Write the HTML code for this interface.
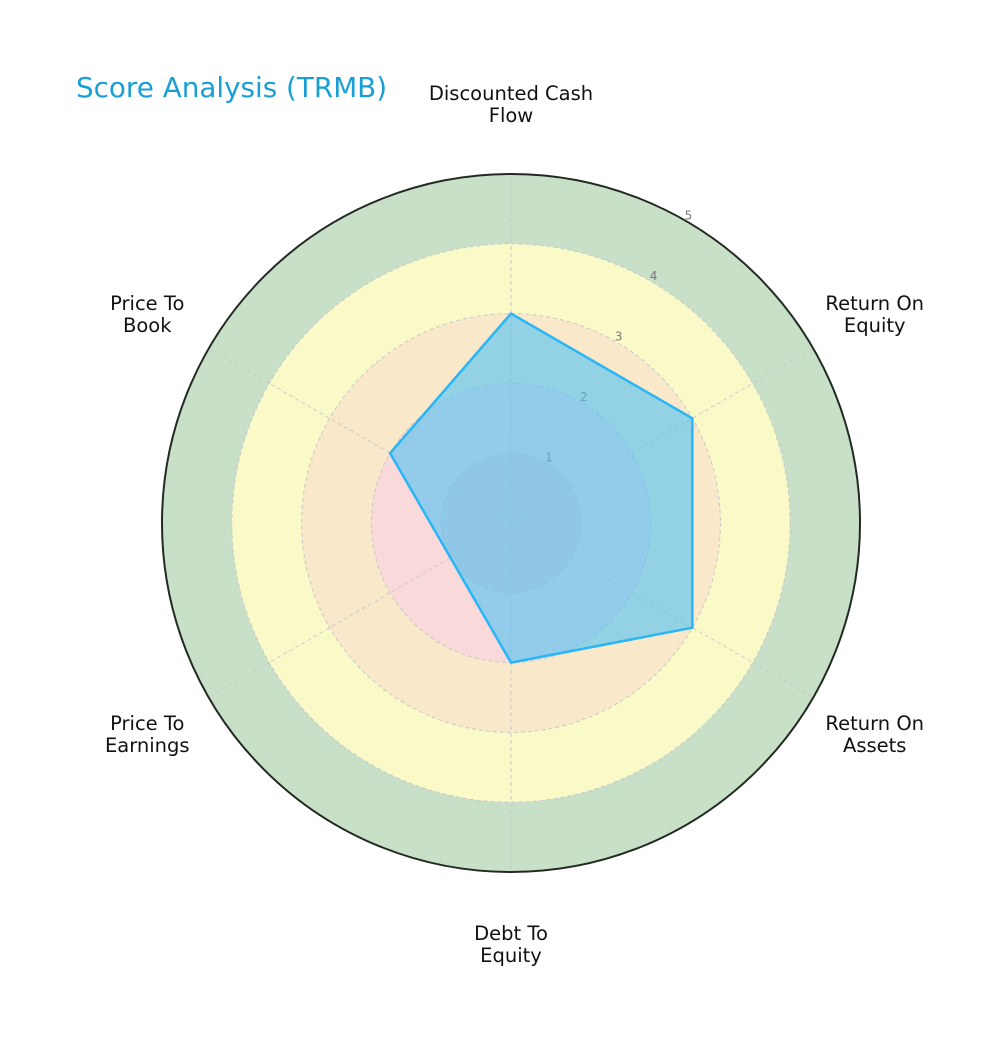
<!DOCTYPE html>
<html><head><meta charset="utf-8"><style>
html,body{margin:0;padding:0;background:#fff;}
svg{display:block;font-family:"DejaVu Sans","Liberation Sans",sans-serif;}
</style></head><body>
<svg id="chart" width="1000" height="1039" viewBox="0 0 1000 1039" xmlns="http://www.w3.org/2000/svg">
<text x="76" y="97" font-size="27.8" fill="#1a9fd4">Score Analysis (TRMB)</text>
<g id="bands"></g><g id="grid"></g><g id="poly"></g><g id="labels"></g>
</svg>
<script>
const categories = [["Discounted Cash","Flow"],["Return On","Equity"],["Return On","Assets"],["Debt To","Equity"],["Price To","Earnings"],["Price To","Book"]];
const scores = [3, 3, 3, 2, 1, 2];
const tickLabels = ["1","2","3","4","5"];
const bandEdges = [1, 2, 3, 4, 5];
const bandColors = ["#f4cccc","#f9d9d9","#f9e8c9","#fafac9","#c8e0c8"];
const maxVal = 5;
const NS="http://www.w3.org/2000/svg";
const cx=511, cy=523, R=349;
function rScale(v){return v/maxVal*R;}
function ang(i){return -Math.PI/2 + i*2*Math.PI/categories.length;}
function pt(i,v){return [cx+rScale(v)*Math.cos(ang(i)), cy+rScale(v)*Math.sin(ang(i))];}
function mk(tag,attrs,parent){const e=document.createElementNS(NS,tag);for(const k in attrs)e.setAttribute(k,attrs[k]);document.getElementById(parent).appendChild(e);return e;}
for(let b=bandEdges.length-1;b>=0;b--){
  const c=mk('circle',{cx:cx,cy:cy,r:rScale(bandEdges[b]),fill:bandColors[b]},'bands');
  
  
}
for(let k=0;k<tickLabels.length-1;k++){
  const c=mk('circle',{cx:cx,cy:cy,r:rScale(k+1),fill:'none',stroke:'#c8c8c8','stroke-width':1,'stroke-dasharray':'4,3'},'grid');
  
  
}
categories.forEach((c,i)=>{
  const p=pt(i,maxVal);
  const l=mk('line',{x1:cx,y1:cy,x2:p[0],y2:p[1],stroke:'#c8c8c8','stroke-width':1,'stroke-dasharray':'4,3'},'grid');
  
  
});
const outer=mk('circle',{cx:cx,cy:cy,r:R,fill:'none',stroke:'#222a22','stroke-width':2},'grid');


tickLabels.forEach((t,k)=>{
  const a=-Math.PI/2+Math.PI/6, r=rScale(k+1)+6;
  const e=mk('text',{x:cx+r*Math.cos(a),y:cy+r*Math.sin(a)+4,'font-size':12,fill:'#777','text-anchor':'middle'},'grid');
  e.textContent=t;
  
  
});
const pts=scores.map((v,i)=>pt(i,v).join(',')).join(' ');
const pg=mk('polygon',{points:pts,fill:'rgba(79,195,247,0.6)',stroke:'#29b6f6','stroke-width':2.5,'stroke-linejoin':'round'},'poly');


categories.forEach((c,i)=>{
  const a=ang(i), r=420;
  const x=cx+r*Math.cos(a), y=cy+r*Math.sin(a);
  const e=mk('text',{x:x,y:y-3,'font-size':19.5,fill:'#111','text-anchor':'middle'},'labels');
  
  
  c.forEach((line,j)=>{const ts=document.createElementNS(NS,'tspan');ts.setAttribute('x',x);ts.setAttribute('dy',j===0?0:22);ts.textContent=line;e.appendChild(ts);});
});
</script>
</body></html>
